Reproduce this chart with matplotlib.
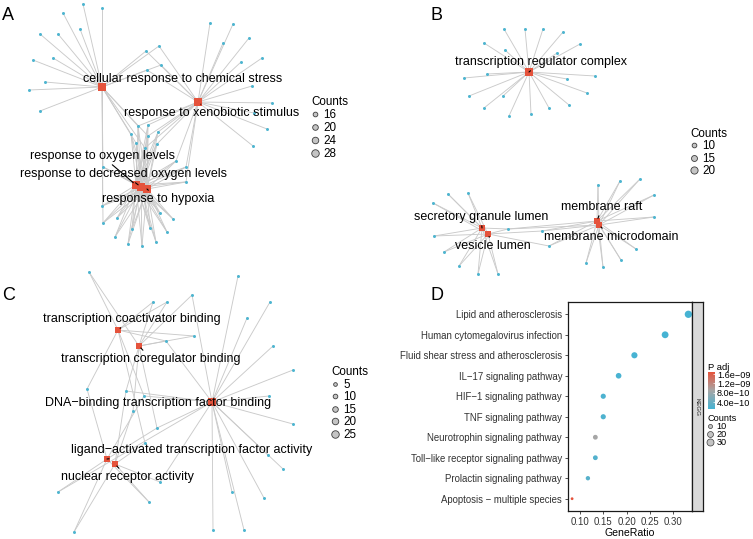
import matplotlib
matplotlib.use('Agg')
import matplotlib.pyplot as plt
from matplotlib.lines import Line2D
from matplotlib.colors import LinearSegmentedColormap, Normalize
import numpy as np

plt.rcParams['font.family'] = ['Liberation Sans', 'DejaVu Sans']

W, H = 753, 539

# panel A - network layout (image pixel coords)
a_terms = ['cellular response to chemical stress', 'response to xenobiotic stimulus',
           'response to oxygen levels', 'response to decreased oxygen levels',
           'response to hypoxia']
a_term_x = [102, 198, 136, 141, 147]
a_term_y = [87, 102, 185, 187, 189]
a_lab_x = [183, 212, 102, 124, 158]
a_lab_y = [79, 113, 156, 174, 199]
a_seg = [False, True, True, True, True]
a_gene_x = [83, 102, 63, 80, 40, 58, 33, 53, 45, 29, 40,
            146, 159, 161, 147,
            210, 233, 223, 249, 241, 262, 252, 272, 254, 267, 253,
            138, 148, 158, 131, 148, 136, 157, 145, 176, 186, 186, 103,
            102, 103, 117, 132, 115, 128, 142, 156, 150, 167, 173, 160]
a_gene_y = [4, 8, 13, 29, 34, 34, 60, 58, 82, 90, 111,
            51, 46, 65, 70,
            23, 24, 43, 38, 62, 58, 86, 103, 113, 129, 146,
            126, 125, 132, 134, 136, 143, 144, 148, 161, 167, 182, 167,
            206, 223, 218, 229, 237, 244, 246, 242, 228, 232, 219, 213]
a_links = [[0]] * 11 + [[0, 1]] * 4 + [[1]] * 11 + [
    [0, 1, 2, 3, 4], [1, 2, 3, 4], [1, 2, 3, 4], [0, 2, 3, 4], [0, 1, 2, 3, 4],
    [0, 2, 3, 4], [1, 2, 3, 4], [0, 1, 2, 3, 4], [1, 2, 3, 4], [1, 2, 3, 4],
    [1, 2, 3, 4], [0, 2, 3, 4],
    [0, 2, 3, 4], [0, 2, 3, 4]] + [[2, 3, 4]] * 10
a_breaks = [16, 20, 24, 28]

# panel B
b_terms = ['transcription regulator complex', 'secretory granule lumen', 'vesicle lumen',
           'membrane raft', 'membrane microdomain']
b_term_x = [529, 482, 488, 597, 599]
b_term_y = [72, 228, 234, 221, 225]
b_lab_x = [541, 481, 493, 602, 611]
b_lab_y = [62, 217, 246, 207, 237]
b_seg = [True, True, True, True, True]
b_gene_x = [504, 525, 543, 563, 484, 580, 505, 557, 487, 464, 567, 595, 469, 503, 587,
            484, 549, 569, 509, 531,
            448, 468, 433, 434, 444, 459, 478, 498,
            508, 542, 549,
            598, 620, 640, 654, 654, 586, 603, 621, 636]
b_gene_y = [29, 29, 29, 32, 43, 44, 50, 53, 74, 78, 79, 76, 96, 96, 93,
            108, 108, 105, 116, 114,
            194, 193, 203, 236, 252, 266, 274, 274,
            229, 231, 246,
            185, 181, 179, 195, 217, 263, 267, 260, 249]
b_links = [[0]] * 20 + [[1, 2]] * 8 + [[1, 2, 3, 4], [2, 3, 4], [2, 3, 4]] + [[3, 4]] * 9
b_breaks = [10, 15, 20]

# panel C
c_terms = ['transcription coactivator binding', 'transcription coregulator binding',
           'DNA\u2212binding transcription factor binding',
           'ligand\u2212activated transcription factor activity', 'nuclear receptor activity']
c_term_x = [118, 139, 212, 107, 115]
c_term_y = [330, 346, 402, 459, 464]
c_lab_x = [132, 151, 158, 192, 127]
c_lab_y = [319, 359, 403, 450, 477]
c_seg = [True, True, False, True, True]
c_gene_x = [89, 238, 270, 247, 273, 293, 269, 293, 268, 283, 232, 264, 213, 244,
            192, 153, 167, 166, 194, 87, 126, 144, 133, 157, 145, 58, 160, 149, 74]
c_gene_y = [272, 276, 302, 318, 346, 370, 396, 424, 455, 469, 492, 498, 530, 530,
            295, 302, 302, 341, 336, 389, 391, 396, 411, 428, 443, 492, 482, 502, 532]
c_links = [[0, 1]] + [[2]] * 13 + [
    [1, 2], [0, 1], [0, 1], [0, 1, 2], [0, 1], [0, 3], [1, 2, 4], [0, 2, 3], [1, 4],
    [1, 2, 3], [0, 4], [2, 3], [2, 4], [3, 4], [3, 4]]
c_breaks = [5, 10, 15, 20, 25]

# panel D - KEGG dot plot
kegg_terms = ['Lipid and atherosclerosis', 'Human cytomegalovirus infection',
              'Fluid shear stress and atherosclerosis', 'IL\u221217 signaling pathway',
              'HIF\u22121 signaling pathway', 'TNF signaling pathway',
              'Neurotrophin signaling pathway', 'Toll\u2212like receptor signaling pathway',
              'Prolactin signaling pathway', 'Apoptosis \u2212 multiple species']
kegg_ratio = [0.333, 0.283, 0.217, 0.183, 0.15, 0.15, 0.133, 0.133, 0.117, 0.083]
kegg_count = [33, 28, 22, 18, 15, 15, 13, 13, 11, 8]
kegg_padj = [1.0e-10, 1.0e-10, 1.1e-10, 1.3e-10, 1.6e-10, 1.7e-10, 8.9e-10, 2.1e-10,
             2.4e-10, 1.69e-09]
kegg_breaks = [10, 20, 30]

RED = '#E5533C'
CYAN = '#4DB5D0'
EDGE = '#CACACA'
PX = 0.72  # points per pixel

fig = plt.figure(figsize=(W / 100, H / 100), dpi=100)


def panel_axes(x0, y0, x1, y1):
    ax = fig.add_axes([x0 / W, 1 - y1 / H, (x1 - x0) / W, (y1 - y0) / H])
    ax.set_xlim(x0, x1)
    ax.set_ylim(y1, y0)
    ax.axis('off')
    return ax


def size_px(c, breaks, d0, d1):
    c = max(c, breaks[0])
    return d0 + (c - breaks[0]) / (breaks[-1] - breaks[0]) * (d1 - d0)


def counts_legend(ax, breaks, sizes, x, y, fs, spacing):
    hs = [Line2D([], [], ls='', marker='o', ms=d * PX, mfc='#C4C4C4', mec='#3C3C3C', mew=0.6)
          for d in sizes]
    leg = ax.legend(hs, [str(b) for b in breaks], title='Counts', loc='upper left',
                    bbox_to_anchor=(x / W, 1 - y / H), bbox_transform=fig.transFigure,
                    frameon=False, fontsize=fs, title_fontsize=fs, handlelength=0.7,
                    handletextpad=0.35, labelspacing=spacing, borderpad=0, borderaxespad=0,
                    alignment='left')
    return leg


def draw_net(ax, terms, tx, ty, lx, ly, seg, gx, gy, links, breaks, d0, d1, fs):
    counts = [0] * len(terms)
    for i, ls in enumerate(links):
        for t in ls:
            ax.plot([gx[i], tx[t]], [gy[i], ty[t]], color=EDGE, lw=0.65, zorder=1,
                    clip_on=False)
            counts[t] += 1
    ax.scatter(gx, gy, s=(3 * PX) ** 2, color=CYAN, lw=0, zorder=2, clip_on=False)
    sides = []
    for t in range(len(terms)):
        d = max(size_px(counts[t], breaks, d0, d1), 5.0) * 1.2
        sides.append(d)
        ax.scatter([tx[t]], [ty[t]], s=(d * PX) ** 2, marker='s', color=RED, lw=0, zorder=3)
    for t in range(len(terms)):
        if seg[t]:
            ax.annotate(terms[t], xy=(tx[t], ty[t]), xytext=(lx[t], ly[t]),
                        ha='center', va='center', fontsize=fs, zorder=4,
                        arrowprops=dict(arrowstyle='-', color='black', lw=0.8,
                                        shrinkA=0, shrinkB=sides[t] * PX * 0.45))
        else:
            ax.text(lx[t], ly[t], terms[t], ha='center', va='center', fontsize=fs, zorder=4)
    leg_sizes = [size_px(b, breaks, d0, d1) for b in breaks]
    return leg_sizes


axA = panel_axes(0, 0, 376, 270)
sz = draw_net(axA, a_terms, a_term_x, a_term_y, a_lab_x, a_lab_y, a_seg,
              a_gene_x, a_gene_y, a_links, a_breaks, 4.7, 7.5, 9)
counts_legend(axA, a_breaks, sz, 311, 96, 8.4, 0.08)

axB = panel_axes(376, 0, 753, 270)
sz = draw_net(axB, b_terms, b_term_x, b_term_y, b_lab_x, b_lab_y, b_seg,
              b_gene_x, b_gene_y, b_links, b_breaks, 4.7, 7.2, 9)
counts_legend(axB, b_breaks, sz, 690, 128, 8.4, 0.03)

axC = panel_axes(0, 270, 376, 539)
sz = draw_net(axC, c_terms, c_term_x, c_term_y, c_lab_x, c_lab_y, c_seg,
              c_gene_x, c_gene_y, c_links, c_breaks, 3.7, 7.5, 9)
counts_legend(axC, c_breaks, sz, 331, 366, 8.4, 0.05)

# panel D
axD = fig.add_axes([568 / W, 1 - 511 / H, 124 / W, 209 / H])
cmap = LinearSegmentedColormap.from_list('padj', ['#46B3D3', '#A6A6A6', '#E5533C'])
norm = Normalize(min(kegg_padj), max(kegg_padj))
ypos = np.arange(len(kegg_terms))[::-1] + 1
kmin, kmax = min(kegg_count), max(kegg_count)
d_min, d_max = 2.8, 7.3


def dot_px(c):
    return d_min + np.sqrt((c - kmin) / (kmax - kmin)) * (d_max - d_min)


axD.scatter(kegg_ratio, ypos, s=[(dot_px(c) * PX) ** 2 for c in kegg_count],
            c=kegg_padj, cmap=cmap, norm=norm, lw=0, zorder=3)
axD.set_xlim(0.0742, 0.3408)
axD.set_ylim(0.4, len(kegg_terms) + 0.6)
axD.set_yticks(ypos)
axD.set_yticklabels(kegg_terms)
axD.set_xticks([0.10, 0.15, 0.20, 0.25, 0.30])
axD.set_xticklabels(['0.10', '0.15', '0.20', '0.25', '0.30'])
axD.tick_params(labelsize=6.9, labelcolor='#333333', color='#333333', length=2.2,
                width=0.6, pad=2.0)
axD.set_xlabel('GeneRatio', fontsize=7.6, labelpad=1)
for sp in axD.spines.values():
    sp.set_linewidth(0.9)
    sp.set_color('#1A1A1A')

strip = fig.add_axes([692 / W, 1 - 511 / H, 11 / W, 209 / H])
strip.set_facecolor('#D9D9D9')
strip.set_xticks([])
strip.set_yticks([])
for sp in strip.spines.values():
    sp.set_linewidth(0.9)
    sp.set_color('#1A1A1A')
strip.text(0.5, 0.5, 'KEGG', rotation=-90, ha='center', va='center', fontsize=4.5,
           color='#1A1A1A', transform=strip.transAxes)

cax = fig.add_axes([708 / W, 1 - 409 / H, 7 / W, 37 / H])
sm = plt.cm.ScalarMappable(norm=norm, cmap=cmap)
cb = fig.colorbar(sm, cax=cax, ticks=[4.0e-10, 8.0e-10, 1.2e-09, 1.6e-09])
cb.ax.set_yticklabels(['4.0e\u221210', '8.0e\u221210', '1.2e\u221209', '1.6e\u221209'])
cb.ax.tick_params(labelsize=6.6, length=1.5, width=0.5, color='white', pad=1.5,
                  direction='in')
cb.outline.set_visible(False)
cax.set_title('P adj', fontsize=6.8, loc='left', pad=1.5)

dh = [Line2D([], [], ls='', marker='o', ms=dot_px(b) * PX, mfc='#C4C4C4', mec='#3C3C3C',
             mew=0.5) for b in kegg_breaks]
axD.legend(dh, [str(b) for b in kegg_breaks], title='Counts', loc='upper left',
           bbox_to_anchor=(707 / W, 1 - 414 / H), bbox_transform=fig.transFigure,
           frameon=False, fontsize=6.6, title_fontsize=6.6, handlelength=0.7,
           handletextpad=0.35, labelspacing=-0.1, borderpad=0, borderaxespad=0,
           alignment='left')

for lab, x, y in [('A', 8, 16), ('B', 436, 16), ('C', 9, 295), ('D', 437, 295)]:
    fig.text(x / W, 1 - y / H, lab, fontsize=13, ha='center', va='center')

fig.savefig('out.png', dpi=100)
